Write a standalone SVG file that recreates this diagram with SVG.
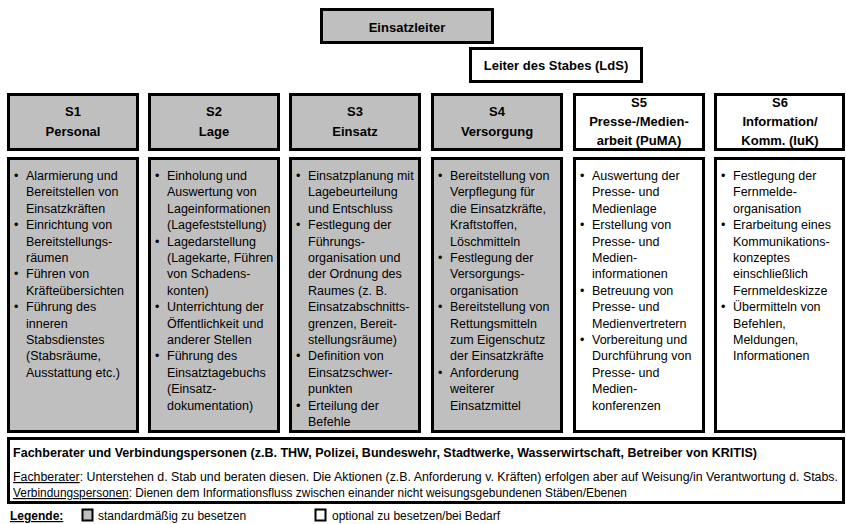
<svg xmlns="http://www.w3.org/2000/svg" width="846" height="524" viewBox="0 0 846 524">
  <style>
    text { font-family: "Liberation Sans", Arial, sans-serif; fill: #000; }
    .box { stroke: #000; stroke-width: 3; }
    .std { fill: #bfbfbf; }
    .opt { fill: #ffffff; }
    .hd { font-size: 13px; font-weight: bold; text-anchor: middle; }
    .li { font-size: 12.5px; }
    .bt { font-size: 12px; }
    .u { text-decoration: underline; }
  </style>

  <rect width="846" height="524" fill="#ffffff"/>

  <!-- Leitung -->
  <g id="einsatzleiter">
    <rect class="box std" x="321.5" y="9.5" width="171" height="33"/>
    <text class="hd" x="407" y="31.5">Einsatzleiter</text>
  </g>
  <g id="lds">
    <rect class="box opt" x="470.5" y="48.5" width="171" height="33"/>
    <text class="hd" x="556" y="69.5">Leiter des Stabes (LdS)</text>
  </g>

  <!-- S1 -->
  <g id="s1">
    <rect class="box std" x="8.5" y="94.5" width="129" height="55"/>
    <text class="hd" x="73" y="116">S1</text>
    <text class="hd" x="73" y="136">Personal</text>
    <rect class="box std" x="8.5" y="158.5" width="129" height="273"/>
    <text class="li">
      <tspan x="14" y="180">•</tspan><tspan x="26">Alarmierung und</tspan>
      <tspan x="26" dy="16.4">Bereitstellen von</tspan>
      <tspan x="26" dy="16.4">Einsatzkräften</tspan>
      <tspan x="14" dy="16.4">•</tspan><tspan x="26">Einrichtung von</tspan>
      <tspan x="26" dy="16.4">Bereitstellungs-</tspan>
      <tspan x="26" dy="16.4">räumen</tspan>
      <tspan x="14" dy="16.4">•</tspan><tspan x="26">Führen von</tspan>
      <tspan x="26" dy="16.4">Kräfteübersichten</tspan>
      <tspan x="14" dy="16.4">•</tspan><tspan x="26">Führung des</tspan>
      <tspan x="26" dy="16.4">inneren</tspan>
      <tspan x="26" dy="16.4">Stabsdienstes</tspan>
      <tspan x="26" dy="16.4">(Stabsräume,</tspan>
      <tspan x="26" dy="16.4">Ausstattung etc.)</tspan>
    </text>
  </g>

  <!-- S2 -->
  <g id="s2">
    <rect class="box std" x="149.5" y="94.5" width="129" height="55"/>
    <text class="hd" x="214" y="116">S2</text>
    <text class="hd" x="214" y="136">Lage</text>
    <rect class="box std" x="149.5" y="158.5" width="129" height="273"/>
    <text class="li">
      <tspan x="155" y="180">•</tspan><tspan x="167">Einholung und</tspan>
      <tspan x="167" dy="16.4">Auswertung von</tspan>
      <tspan x="167" dy="16.4">Lageinformationen</tspan>
      <tspan x="167" dy="16.4">(Lagefeststellung)</tspan>
      <tspan x="155" dy="16.4">•</tspan><tspan x="167">Lagedarstellung</tspan>
      <tspan x="167" dy="16.4">(Lagekarte, Führen</tspan>
      <tspan x="167" dy="16.4">von Schadens-</tspan>
      <tspan x="167" dy="16.4">konten)</tspan>
      <tspan x="155" dy="16.4">•</tspan><tspan x="167">Unterrichtung der</tspan>
      <tspan x="167" dy="16.4">Öffentlichkeit und</tspan>
      <tspan x="167" dy="16.4">anderer Stellen</tspan>
      <tspan x="155" dy="16.4">•</tspan><tspan x="167">Führung des</tspan>
      <tspan x="167" dy="16.4">Einsatztagebuchs</tspan>
      <tspan x="167" dy="16.4">(Einsatz-</tspan>
      <tspan x="167" dy="16.4">dokumentation)</tspan>
    </text>
  </g>

  <!-- S3 -->
  <g id="s3">
    <rect class="box std" x="290.5" y="94.5" width="129" height="55"/>
    <text class="hd" x="355" y="116">S3</text>
    <text class="hd" x="355" y="136">Einsatz</text>
    <rect class="box std" x="290.5" y="158.5" width="129" height="273"/>
    <text class="li">
      <tspan x="296" y="180">•</tspan><tspan x="308">Einsatzplanung mit</tspan>
      <tspan x="308" dy="16.4">Lagebeurteilung</tspan>
      <tspan x="308" dy="16.4">und Entschluss</tspan>
      <tspan x="296" dy="16.4">•</tspan><tspan x="308">Festlegung der</tspan>
      <tspan x="308" dy="16.4">Führungs-</tspan>
      <tspan x="308" dy="16.4">organisation und</tspan>
      <tspan x="308" dy="16.4">der Ordnung des</tspan>
      <tspan x="308" dy="16.4">Raumes (z. B.</tspan>
      <tspan x="308" dy="16.4">Einsatzabschnitts-</tspan>
      <tspan x="308" dy="16.4">grenzen, Bereit-</tspan>
      <tspan x="308" dy="16.4">stellungsräume)</tspan>
      <tspan x="296" dy="16.4">•</tspan><tspan x="308">Definition von</tspan>
      <tspan x="308" dy="16.4">Einsatzschwer-</tspan>
      <tspan x="308" dy="16.4">punkten</tspan>
      <tspan x="296" dy="16.4">•</tspan><tspan x="308">Erteilung der</tspan>
      <tspan x="308" dy="16.4">Befehle</tspan>
    </text>
  </g>

  <!-- S4 -->
  <g id="s4">
    <rect class="box std" x="432.5" y="94.5" width="129" height="55"/>
    <text class="hd" x="497" y="116">S4</text>
    <text class="hd" x="497" y="136">Versorgung</text>
    <rect class="box std" x="432.5" y="158.5" width="129" height="273"/>
    <text class="li">
      <tspan x="438" y="180">•</tspan><tspan x="450">Bereitstellung von</tspan>
      <tspan x="450" dy="16.4">Verpflegung für</tspan>
      <tspan x="450" dy="16.4">die Einsatzkräfte,</tspan>
      <tspan x="450" dy="16.4">Kraftstoffen,</tspan>
      <tspan x="450" dy="16.4">Löschmitteln</tspan>
      <tspan x="438" dy="16.4">•</tspan><tspan x="450">Festlegung der</tspan>
      <tspan x="450" dy="16.4">Versorgungs-</tspan>
      <tspan x="450" dy="16.4">organisation</tspan>
      <tspan x="438" dy="16.4">•</tspan><tspan x="450">Bereitstellung von</tspan>
      <tspan x="450" dy="16.4">Rettungsmitteln</tspan>
      <tspan x="450" dy="16.4">zum Eigenschutz</tspan>
      <tspan x="450" dy="16.4">der Einsatzkräfte</tspan>
      <tspan x="438" dy="16.4">•</tspan><tspan x="450">Anforderung</tspan>
      <tspan x="450" dy="16.4">weiterer</tspan>
      <tspan x="450" dy="16.4">Einsatzmittel</tspan>
    </text>
  </g>

  <!-- S5 -->
  <g id="s5">
    <rect class="box opt" x="574.5" y="94.5" width="129" height="55"/>
    <text class="hd" x="639" y="107">S5</text>
    <text class="hd" x="639" y="126">Presse-/Medien-</text>
    <text class="hd" x="639" y="145">arbeit (PuMA)</text>
    <rect class="box opt" x="574.5" y="158.5" width="129" height="273"/>
    <text class="li">
      <tspan x="580" y="180">•</tspan><tspan x="592">Auswertung der</tspan>
      <tspan x="592" dy="16.4">Presse- und</tspan>
      <tspan x="592" dy="16.4">Medienlage</tspan>
      <tspan x="580" dy="16.4">•</tspan><tspan x="592">Erstellung von</tspan>
      <tspan x="592" dy="16.4">Presse- und</tspan>
      <tspan x="592" dy="16.4">Medien-</tspan>
      <tspan x="592" dy="16.4">informationen</tspan>
      <tspan x="580" dy="16.4">•</tspan><tspan x="592">Betreuung von</tspan>
      <tspan x="592" dy="16.4">Presse- und</tspan>
      <tspan x="592" dy="16.4">Medienvertretern</tspan>
      <tspan x="580" dy="16.4">•</tspan><tspan x="592">Vorbereitung und</tspan>
      <tspan x="592" dy="16.4">Durchführung von</tspan>
      <tspan x="592" dy="16.4">Presse- und</tspan>
      <tspan x="592" dy="16.4">Medien-</tspan>
      <tspan x="592" dy="16.4">konferenzen</tspan>
    </text>
  </g>

  <!-- S6 -->
  <g id="s6">
    <rect class="box opt" x="715.5" y="94.5" width="128" height="55"/>
    <text class="hd" x="780" y="107">S6</text>
    <text class="hd" x="780" y="126">Information/</text>
    <text class="hd" x="780" y="145">Komm. (IuK)</text>
    <rect class="box opt" x="715.5" y="158.5" width="128" height="273"/>
    <text class="li">
      <tspan x="721" y="180">•</tspan><tspan x="733">Festlegung der</tspan>
      <tspan x="733" dy="16.4">Fernmelde-</tspan>
      <tspan x="733" dy="16.4">organisation</tspan>
      <tspan x="721" dy="16.4">•</tspan><tspan x="733">Erarbeitung eines</tspan>
      <tspan x="733" dy="16.4">Kommunikations-</tspan>
      <tspan x="733" dy="16.4">konzeptes</tspan>
      <tspan x="733" dy="16.4">einschließlich</tspan>
      <tspan x="733" dy="16.4">Fernmeldeskizze</tspan>
      <tspan x="721" dy="16.4">•</tspan><tspan x="733">Übermitteln von</tspan>
      <tspan x="733" dy="16.4">Befehlen,</tspan>
      <tspan x="733" dy="16.4">Meldungen,</tspan>
      <tspan x="733" dy="16.4">Informationen</tspan>
    </text>
  </g>

  <!-- Fachberater und Verbindungspersonen -->
  <g id="fachberater">
    <rect class="box opt" x="8.5" y="438.5" width="835" height="64"/>
    <text class="bt" x="13" y="457" font-weight="bold" font-size="12.5" textLength="744" lengthAdjust="spacingAndGlyphs">Fachberater und Verbindungspersonen (z.B. THW, Polizei, Bundeswehr, Stadtwerke, Wasserwirtschaft, Betreiber von KRITIS)</text>
    <text class="bt" x="13" y="481" textLength="825" lengthAdjust="spacingAndGlyphs"><tspan class="u">Fachberater</tspan>: Unterstehen d. Stab und beraten diesen. Die Aktionen (z.B. Anforderung v. Kräften) erfolgen aber auf Weisung/in Verantwortung d. Stabs.</text>
    <text class="bt" x="13" y="497" textLength="614" lengthAdjust="spacingAndGlyphs"><tspan class="u">Verbindungspersonen</tspan>: Dienen dem Informationsfluss zwischen einander nicht weisungsgebundenen Stäben/Ebenen</text>
  </g>

  <!-- Legende -->
  <g id="legende">
    <text class="bt u" x="10" y="520" font-weight="bold">Legende:</text>
    <rect class="std" x="82.5" y="509.5" width="10" height="11" stroke="#000" stroke-width="2"/>
    <text class="bt" x="98" y="520">standardmäßig zu besetzen</text>
    <rect class="opt" x="315.5" y="509.5" width="10" height="11" stroke="#000" stroke-width="2"/>
    <text class="bt" x="332" y="520">optional zu besetzen/bei Bedarf</text>
  </g>
</svg>
